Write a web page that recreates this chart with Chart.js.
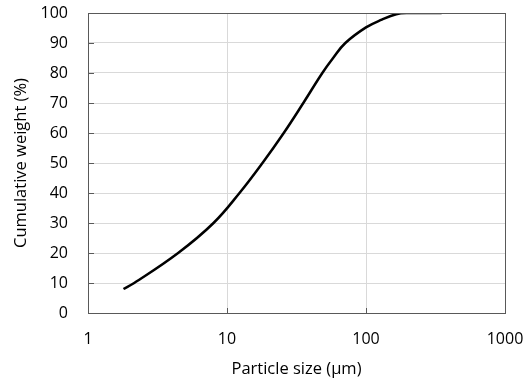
<!DOCTYPE html>
<html>
<head>
<meta charset="utf-8">
<script src="https://cdn.jsdelivr.net/npm/chart.js@4.4.1/dist/chart.umd.min.js"></script>
<style>
  html, body { margin: 0; padding: 0; background: #fff; }
  #wrap { width: 524px; height: 381px; }
</style>
</head>
<body>
<div id="wrap"><canvas id="psd" width="524" height="381"></canvas></div>
<script>
// Particle size distribution
const sizes = [1.8, 2.15, 4.45, 8, 12.3, 18, 25.6, 35.4, 48.5, 58, 71, 100, 130, 165, 200, 350];
const cumWeight = [8, 10, 20, 30, 40, 50, 60, 70, 80, 85, 90, 95.2, 97.8, 99.6, 100, 100];
const xTicks = [1, 10, 100, 1000];

// frame round the plot area, plus the short inner tick marks
const framePlugin = {
    id: 'frame',
    afterDraw(chart) {
        const a = chart.chartArea;
        const ctx = chart.ctx;
        const xs = chart.scales.x, ys = chart.scales.y;
        ctx.save();
        ctx.strokeStyle = '#595959';
        ctx.lineWidth = 1;
        ctx.beginPath();
        ys.ticks.forEach(t => {
            const py = Math.round(ys.getPixelForValue(t.value)) + 0.5;
            ctx.moveTo(a.left, py);
            ctx.lineTo(a.left + 6, py);
        });
        xTicks.forEach(v => {
            const px = Math.round(xs.getPixelForValue(v)) + 0.5;
            ctx.moveTo(px, a.bottom);
            ctx.lineTo(px, a.bottom - 5);
        });
        ctx.stroke();
        ctx.strokeRect(Math.round(a.left) + 0.5, Math.round(a.top) + 0.5,
            Math.round(a.right - a.left), Math.round(a.bottom - a.top));
        ctx.restore();
    }
};

const ctx = document.getElementById('psd').getContext('2d');
new Chart(ctx, {
    type: 'line',
    data: {
        datasets: [{
            data: sizes.map((s, i) => ({ x: s, y: cumWeight[i] })),
            borderColor: '#000',
            borderWidth: 2.5,
            pointRadius: 0,
            tension: 0.4,
            fill: false
        }]
    },
    options: {
        responsive: false,
        animation: false,
        layout: { padding: { top: 13, right: 19, left: 0, bottom: 0 } },
        plugins: { legend: { display: false }, tooltip: { enabled: false } },
        scales: {
            x: {
                type: 'logarithmic',
                min: 1,
                max: 1000,
                afterBuildTicks: (axis) => { axis.ticks = xTicks.map(v => ({ value: v })); },
                afterFit: (axis) => {
                    axis.height = 68;
                    axis.paddingLeft = 0;
                    axis.paddingRight = 0;
                },
                grid: { color: '#d9d9d9', drawTicks: false },
                border: { display: false },
                ticks: {
                    padding: 17,
                    color: '#000',
                    font: { family: 'Open Sans', size: 16 },
                    callback: (v) => String(v),
                    maxRotation: 0
                },
                title: {
                    display: true,
                    text: 'Particle size (µm)',
                    color: '#000',
                    font: { family: 'Open Sans', size: 16.5 },
                    padding: { top: 0, bottom: 2 }
                }
            },
            y: {
                min: 0,
                max: 100,
                afterFit: (axis) => {
                    axis.width = 88;
                    axis.paddingTop = 0;
                    axis.paddingBottom = 0;
                },
                grid: { color: '#d9d9d9', drawTicks: false },
                border: { display: false },
                ticks: {
                    stepSize: 10,
                    padding: 20,
                    color: '#000',
                    font: { family: 'Open Sans', size: 16 }
                },
                title: {
                    display: true,
                    text: 'Cumulative weight (%)',
                    color: '#000',
                    font: { family: 'Open Sans', size: 16.5 },
                    padding: { top: 11, bottom: 0 }
                }
            }
        }
    },
    plugins: [framePlugin]
});
</script>
</body>
</html>
